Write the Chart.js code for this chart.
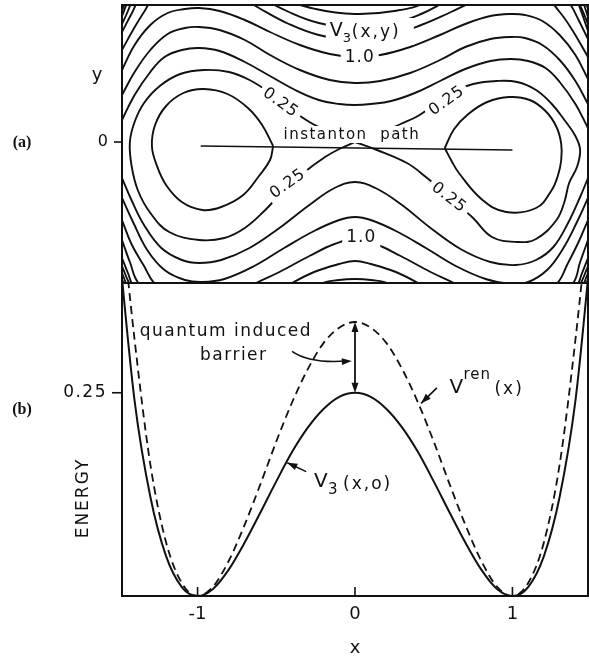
<!DOCTYPE html>
<html>
<head>
<meta charset="utf-8">
<script src="https://cdn.jsdelivr.net/npm/chart.js@4.4.1/dist/chart.umd.min.js"></script>
<style>
  html, body { margin: 0; padding: 0; background: #fff; }
  #wrap { position: relative; width: 589px; height: 659px; }
  canvas { position: absolute; left: 0; top: 0; }
</style>
</head>
<body>
<div id="wrap">
  <canvas id="contour" width="589" height="659"></canvas>
  <canvas id="energy" width="589" height="659"></canvas>
</div>
<script>
// ---- (a) contour map of V3(x,y) as [x, y] ----
const lemonLeft = [[-0.52,-0.04],[-0.59,0.17],[-0.68,0.34],[-0.81,0.48],[-0.96,0.53],[-1.09,0.49],[-1.20,0.36],[-1.27,0.17],[-1.29,-0.04],[-1.26,-0.23],[-1.20,-0.43],[-1.10,-0.60],[-0.97,-0.68],[-0.85,-0.65],[-0.71,-0.53],[-0.61,-0.34],[-0.54,-0.18],[-0.52,-0.04]];
const lemonRight = [[0.57,-0.06],[0.63,0.13],[0.72,0.28],[0.84,0.40],[0.98,0.45],[1.11,0.42],[1.21,0.31],[1.28,0.15],[1.31,-0.02],[1.31,-0.18],[1.29,-0.33],[1.25,-0.48],[1.15,-0.66],[0.96,-0.70],[0.81,-0.58],[0.66,-0.31],[0.61,-0.18],[0.57,-0.06]];
const sepLeft = [[0,0],[-0.16,0.10],[-0.29,0.20],[-0.42,0.34],[-0.54,0.49],[-0.67,0.62],[-0.80,0.70],[-0.96,0.72],[-1.11,0.68],[-1.24,0.56],[-1.34,0.39],[-1.40,0.20],[-1.43,0.00],[-1.42,-0.23],[-1.38,-0.48],[-1.30,-0.71],[-1.18,-0.90],[-0.99,-0.98],[-0.83,-0.96],[-0.70,-0.86],[-0.57,-0.68],[-0.45,-0.48],[-0.32,-0.30],[-0.19,-0.15],[-0.10,-0.07],[0,0]];
const sepRight = [[0,0],[0.16,0.09],[0.29,0.18],[0.40,0.26],[0.50,0.37],[0.62,0.50],[0.75,0.58],[0.90,0.61],[1.03,0.60],[1.15,0.52],[1.25,0.38],[1.33,0.22],[1.40,0.06],[1.43,-0.08],[1.41,-0.25],[1.36,-0.41],[1.33,-0.60],[1.28,-0.78],[1.15,-0.97],[1.03,-1.00],[0.87,-0.95],[0.75,-0.76],[0.60,-0.55],[0.45,-0.35],[0.33,-0.21],[0.14,-0.08],[0,0]];
const upper05 = [[-1.48,0.22],[-1.40,0.47],[-1.30,0.70],[-1.21,0.85],[-1.10,0.92],[-0.99,0.94],[-0.86,0.91],[-0.70,0.80],[-0.54,0.66],[-0.38,0.52],[-0.23,0.42],[-0.10,0.38],[0,0.37],[0.10,0.38],[0.23,0.41],[0.38,0.49],[0.54,0.61],[0.70,0.73],[0.86,0.81],[0.99,0.83],[1.10,0.81],[1.21,0.74],[1.30,0.60],[1.40,0.38],[1.48,0.14]];
const upper075 = [[-1.48,0.47],[-1.40,0.70],[-1.30,0.92],[-1.19,1.08],[-1.08,1.14],[-0.99,1.15],[-0.86,1.12],[-0.70,1.02],[-0.54,0.87],[-0.35,0.72],[-0.16,0.62],[0,0.59],[0.16,0.61],[0.35,0.69],[0.54,0.82],[0.70,0.95],[0.86,1.03],[0.99,1.05],[1.08,1.04],[1.19,0.97],[1.30,0.82],[1.40,0.61],[1.48,0.38]];
const upper10 = [[-1.48,0.72],[-1.40,0.97],[-1.30,1.17],[-1.19,1.29],[-1.08,1.33],[-0.99,1.34],[-0.86,1.31],[-0.70,1.22],[-0.54,1.10],[-0.35,0.97],[-0.16,0.88],[0,0.85],[0.16,0.87],[0.35,0.95],[0.54,1.07],[0.70,1.18],[0.86,1.26],[0.99,1.28],[1.08,1.27],[1.19,1.21],[1.30,1.07],[1.40,0.87],[1.48,0.63]];
const upper125 = [[-1.48,0.92],[-1.41,1.12],[-1.34,1.30],[-1.27,1.45],[-1.0,1.62],[-0.80,1.52],[-0.70,1.43],[-0.61,1.34],[-0.42,1.18],[-0.23,1.07],[0,1.02],[0.23,1.07],[0.42,1.17],[0.61,1.30],[0.75,1.40],[1.0,1.52],[1.20,1.46],[1.30,1.30],[1.38,1.12],[1.48,0.85]];
const upper15 = [[-1.48,1.10],[-1.42,1.28],[-1.36,1.44],[-1.0,1.85],[-0.59,1.44],[-0.42,1.30],[-0.23,1.19],[0,1.14],[0.23,1.18],[0.42,1.28],[0.57,1.40],[1.0,1.75],[1.30,1.50],[1.37,1.37],[1.42,1.22],[1.48,1.03]];
const upper175 = [[-1.48,1.26],[-1.43,1.42],[-1.0,2.0],[-0.45,1.44],[-0.25,1.33],[0,1.28],[0.25,1.31],[0.45,1.40],[1.0,1.95],[1.40,1.45],[1.44,1.33],[1.48,1.18]];
const upperCornerL1 = [[-1.48,1.18],[-1.445,1.30],[-1.415,1.42]];
const upperCornerL2 = [[-1.48,1.31],[-1.455,1.42]];
const upperCornerL3 = [[-1.48,1.36],[-1.468,1.42]];
const upperCornerR1 = [[1.41,1.42],[1.445,1.27],[1.48,1.11]];
const upperCornerR2 = [[1.445,1.42],[1.48,1.25]];
const upperCornerR3 = [[1.462,1.42],[1.48,1.33]];
const lower05 = [[-1.48,-0.36],[-1.42,-0.58],[-1.34,-0.83],[-1.23,-1.06],[-1.10,-1.18],[-0.99,-1.21],[-0.85,-1.18],[-0.67,-1.06],[-0.48,-0.86],[-0.29,-0.63],[-0.13,-0.46],[0,-0.40],[0.13,-0.46],[0.29,-0.62],[0.48,-0.86],[0.67,-1.07],[0.86,-1.20],[1.02,-1.23],[1.15,-1.18],[1.26,-1.05],[1.35,-0.82],[1.43,-0.55],[1.48,-0.36]];
const lower075 = [[-1.48,-0.56],[-1.41,-0.80],[-1.32,-1.08],[-1.21,-1.28],[-1.08,-1.38],[-0.97,-1.40],[-0.83,-1.37],[-0.64,-1.24],[-0.45,-1.06],[-0.26,-0.89],[-0.10,-0.78],[0,-0.75],[0.10,-0.78],[0.26,-0.89],[0.45,-1.06],[0.64,-1.24],[0.83,-1.37],[0.99,-1.42],[1.10,-1.40],[1.22,-1.28],[1.32,-1.07],[1.41,-0.80],[1.48,-0.56]];
const lower10 = [[-1.48,-0.78],[-1.42,-1.02],[-1.34,-1.24],[-1.27,-1.42],[-1.0,-1.75],[-0.64,-1.42],[-0.48,-1.30],[-0.29,-1.14],[-0.13,-1.02],[0,-0.97],[0.13,-1.02],[0.29,-1.14],[0.48,-1.30],[0.64,-1.42],[1.0,-1.75],[1.28,-1.42],[1.35,-1.22],[1.42,-1.00],[1.48,-0.78]];
const lower125 = [[-1.48,-0.98],[-1.43,-1.20],[-1.37,-1.42],[-1.0,-1.95],[-0.41,-1.42],[-0.26,-1.30],[-0.10,-1.22],[0,-1.19],[0.10,-1.22],[0.26,-1.30],[0.41,-1.42],[1.0,-1.95],[1.38,-1.42],[1.43,-1.20],[1.48,-0.98]];
const lower15 = [[-1.48,-1.16],[-1.44,-1.32],[-1.41,-1.43],[-1.0,-2.1],[-0.22,-1.42],[-0.10,-1.38],[0,-1.37],[0.10,-1.38],[0.22,-1.42],[1.0,-2.1],[1.41,-1.43],[1.44,-1.32],[1.48,-1.16]];
const lowerCornerL1 = [[-1.48,-1.24],[-1.455,-1.34],[-1.43,-1.43]];
const lowerCornerL2 = [[-1.48,-1.31],[-1.45,-1.43]];
const lowerCornerL3 = [[-1.48,-1.37],[-1.465,-1.43]];
const lowerCornerR1 = [[1.43,-1.43],[1.455,-1.34],[1.48,-1.24]];
const lowerCornerR2 = [[1.45,-1.43],[1.48,-1.31]];
const lowerCornerR3 = [[1.465,-1.43],[1.48,-1.37]];
const instantonPath = [[-0.98,-0.04],[1.0,-0.08]];
const contourYTicks = [0];

// ---- (b) cuts along y = 0 ----
const xGrid = [-1.5,-1.4,-1.3,-1.2,-1.1,-1.0,-0.9,-0.8,-0.7,-0.6,-0.5,-0.4,-0.3,-0.2,-0.1,0,0.1,0.2,0.3,0.4,0.5,0.6,0.7,0.8,0.9,1.0,1.1,1.2,1.3,1.4,1.5];
const v3Row = [0.43,0.24,0.122,0.049,0.011,0,0.009,0.033,0.066,0.103,0.141,0.177,0.207,0.230,0.245,0.250,0.245,0.230,0.207,0.177,0.141,0.103,0.066,0.033,0.009,0,0.011,0.049,0.122,0.24,0.43];
const vRen = [0.50,0.315,0.162,0.066,0.016,0,0.012,0.044,0.088,0.138,0.190,0.238,0.279,0.311,0.330,0.337,0.330,0.311,0.279,0.238,0.190,0.138,0.088,0.044,0.012,0,0.016,0.066,0.162,0.315,0.50];
const xTicks = [-1, 0, 1];
const energyTicks = [0.25];

const INK = "#111";
const SANS = "'DejaVu Sans', sans-serif";
Chart.defaults.font.family = SANS;

function contourSet(arr) {
    return {
        data: arr.map((p) => ({ x: p[0], y: p[1] })),
        showLine: true,
        borderColor: INK,
        borderWidth: 1.9,
        pointRadius: 0,
        tension: 0.4,
        fill: false,
    };
}

function text(ctx, str, px, py, font, align, base, spacing) {
    ctx.save();
    ctx.font = font;
    ctx.letterSpacing = spacing || "0px";
    ctx.textAlign = align || "center";
    ctx.textBaseline = base || "middle";
    ctx.fillStyle = INK;
    ctx.fillText(str, px, py);
    ctx.restore();
}

function boxedText(ctx, str, px, py, angle, font, spacing) {
    ctx.save();
    ctx.translate(px, py);
    ctx.rotate(angle);
    ctx.font = font;
    ctx.letterSpacing = spacing || "0px";
    const w = ctx.measureText(str).width;
    ctx.fillStyle = "#fff";
    ctx.fillRect(-w / 2 - 4, -10, w + 8, 20);
    ctx.fillStyle = INK;
    ctx.textAlign = "center";
    ctx.textBaseline = "middle";
    ctx.fillText(str, 0, 1);
    ctx.restore();
}

function line(ctx, x1, y1, x2, y2, w) {
    ctx.save();
    ctx.strokeStyle = INK;
    ctx.lineWidth = w || 1.8;
    ctx.beginPath();
    ctx.moveTo(x1, y1);
    ctx.lineTo(x2, y2);
    ctx.stroke();
    ctx.restore();
}

function arrowHead(ctx, tipX, tipY, angle) {
    const len = 10, half = 3.5;
    ctx.save();
    ctx.translate(tipX, tipY);
    ctx.rotate(angle);
    ctx.fillStyle = INK;
    ctx.beginPath();
    ctx.moveTo(0, 0);
    ctx.lineTo(-len, -half);
    ctx.lineTo(-len, half);
    ctx.closePath();
    ctx.fill();
    ctx.restore();
}

const contourDecor = {
    id: "contourDecor",
    afterDatasetsDraw(chart) {
        const { ctx, scales: { x, y } } = chart;
        const P = (vx, vy) => [x.getPixelForValue(vx), y.getPixelForValue(vy)];

        // level labels sitting on the contours
        const lab = "16px " + SANS;
        let p = P(-0.47, 0.40);
        boxedText(ctx, "0.25", p[0], p[1], 0.62, lab, "1px");
        p = P(0.58, 0.42);
        boxedText(ctx, "0.25", p[0], p[1], -0.62, lab, "1px");
        p = P(-0.43, -0.41);
        boxedText(ctx, "0.25", p[0], p[1], -0.62, lab, "1px");
        p = P(0.60, -0.55);
        boxedText(ctx, "0.25", p[0], p[1], 0.66, lab, "1px");
        p = P(0.03, 0.85);
        boxedText(ctx, "1.0", p[0], p[1], 0, "17px " + SANS, "1px");
        p = P(0.04, -0.95);
        boxedText(ctx, "1.0", p[0], p[1], 0, "17px " + SANS, "1px");

        // V3(x,y)
        p = P(-0.16, 1.06);
        ctx.save();
        ctx.fillStyle = "#fff";
        ctx.fillRect(p[0] - 4, p[1] - 18, 88, 27);
        ctx.restore();
        text(ctx, "V", p[0], p[1], "19px " + SANS, "left", "alphabetic");
        text(ctx, "3", p[0] + 13, p[1] + 6, "13px " + SANS, "left", "alphabetic");
        text(ctx, "(x,y)", p[0] + 22, p[1] + 1, "17px " + SANS, "left", "alphabetic", "2px");

        // instanton path
        p = P(-0.02, 0.07);
        ctx.save();
        ctx.font = "15px " + SANS;
        ctx.letterSpacing = "1.5px";
        const w = ctx.measureText("instanton  path").width;
        ctx.fillStyle = "#fff";
        ctx.fillRect(p[0] - w / 2 - 3, p[1] - 9, w + 6, 17);
        ctx.restore();
        text(ctx, "instanton  path", p[0], p[1], "15px " + SANS, "center", "middle", "1.5px");
    },
    afterDraw(chart) {
        const { ctx, chartArea: a, scales: { y } } = chart;
        ctx.save();
        ctx.strokeStyle = INK;
        ctx.lineWidth = 2;
        ctx.strokeRect(a.left, a.top, a.right - a.left, a.bottom - a.top);
        ctx.restore();
        contourYTicks.forEach((t) => {
            const py = y.getPixelForValue(t);
            line(ctx, a.left - 8, py, a.left, py, 1.6);
            text(ctx, String(t), a.left - 14, py, "16px " + SANS, "right", "middle");
        });
        text(ctx, "y", 97, 75, "18px " + SANS, "center", "middle");
        text(ctx, "(a)", 22, 143, "bold 16px 'Liberation Serif', serif", "center", "middle");
    },
};

const energyDecor = {
    id: "energyDecor",
    afterDatasetsDraw(chart) {
        const { ctx, scales: { x, y } } = chart;
        const P = (vx, vy) => [x.getPixelForValue(vx), y.getPixelForValue(vy)];
        const mid = xGrid.indexOf(0);

        // barrier arrow between the two maxima
        const top = P(0, vRen[mid]);
        const bot = P(0, v3Row[mid]);
        line(ctx, top[0], top[1] + 6, bot[0], bot[1] - 6, 1.8);
        arrowHead(ctx, top[0], top[1], -Math.PI / 2);
        arrowHead(ctx, bot[0], bot[1], Math.PI / 2);

        // curved pointer from the caption
        const c0 = P(-0.40, 0.301), c1 = P(-0.29, 0.286), c2 = P(-0.02, 0.289);
        ctx.save();
        ctx.strokeStyle = INK;
        ctx.lineWidth = 1.6;
        ctx.beginPath();
        ctx.moveTo(c0[0], c0[1]);
        ctx.quadraticCurveTo(c1[0], c1[1], c2[0] - 6, c2[1]);
        ctx.stroke();
        ctx.restore();
        arrowHead(ctx, c2[0], c2[1], Math.atan2(c2[1] - c1[1], c2[0] - c1[0]));

        let p = P(-0.82, 0.325);
        text(ctx, "quantum induced", p[0], p[1], "17px " + SANS, "center", "middle", "1.5px");
        p = P(-0.77, 0.296);
        text(ctx, "barrier", p[0], p[1], "17px " + SANS, "center", "middle", "1.5px");

        // V^ren(x)
        const r0 = P(0.52, 0.256), r1 = P(0.42, 0.237);
        line(ctx, r0[0], r0[1], r1[0], r1[1], 1.6);
        arrowHead(ctx, r1[0], r1[1], Math.atan2(r1[1] - r0[1], r1[0] - r0[0]));
        p = P(0.60, 0.25);
        text(ctx, "V", p[0], p[1], "20px " + SANS, "left", "alphabetic");
        text(ctx, "ren", p[0] + 14, p[1] - 14, "15px " + SANS, "left", "alphabetic", "1px");
        text(ctx, "(x)", p[0] + 45, p[1] + 1, "17px " + SANS, "left", "alphabetic", "2px");

        // V3(x,o)
        const s0 = P(-0.31, 0.153), s1 = P(-0.43, 0.164);
        line(ctx, s0[0], s0[1], s1[0], s1[1], 1.6);
        arrowHead(ctx, s1[0], s1[1], Math.atan2(s1[1] - s0[1], s1[0] - s0[0]));
        p = P(-0.26, 0.134);
        text(ctx, "V", p[0], p[1], "20px " + SANS, "left", "alphabetic");
        text(ctx, "3", p[0] + 14, p[1] + 7, "15px " + SANS, "left", "alphabetic");
        text(ctx, "(x,o)", p[0] + 29, p[1] + 2, "17px " + SANS, "left", "alphabetic", "2px");
    },
    afterDraw(chart) {
        const { ctx, chartArea: a, scales: { x, y } } = chart;
        ctx.save();
        ctx.strokeStyle = INK;
        ctx.lineWidth = 2;
        ctx.strokeRect(a.left, a.top, a.right - a.left, a.bottom - a.top);
        ctx.restore();
        xTicks.forEach((t) => {
            const px = x.getPixelForValue(t);
            line(ctx, px, a.bottom, px, a.bottom - 9, 1.6);
            text(ctx, String(t), px, a.bottom + 18, "18px " + SANS, "center", "middle");
        });
        energyTicks.forEach((t) => {
            const py = y.getPixelForValue(t);
            line(ctx, a.left - 10, py, a.left, py, 1.6);
            text(ctx, t.toFixed(2), a.left - 15, py, "17px " + SANS, "right", "middle", "1.5px");
        });
        text(ctx, "x", x.getPixelForValue(0), a.bottom + 52, "18px " + SANS, "center", "middle");
        text(ctx, "(b)", 22, 410, "bold 16px 'Liberation Serif', serif", "center", "middle");
        ctx.save();
        ctx.translate(84, 498);
        ctx.rotate(-Math.PI / 2);
        text(ctx, "ENERGY", 0, 0, "17px " + SANS, "center", "middle", "2px");
        ctx.restore();
    },
};

function main() {
    const contourSets = [
        lemonLeft, lemonRight, sepLeft, sepRight,
        upper05, upper075, upper10, upper125, upper15, upper175,
        upperCornerL1, upperCornerL2, upperCornerL3, upperCornerR1, upperCornerR2, upperCornerR3,
        lower05, lower075, lower10, lower125, lower15,
        lowerCornerL1, lowerCornerL2, lowerCornerL3, lowerCornerR1, lowerCornerR2, lowerCornerR3,
    ].map(contourSet);
    const path = contourSet(instantonPath);
    path.tension = 0;
    path.borderWidth = 1.6;
    contourSets.push(path);

    new Chart(document.getElementById("contour"), {
        type: "scatter",
        data: { datasets: contourSets },
        options: {
            responsive: false,
            animation: false,
            events: [],
            layout: { padding: { left: 122, right: 1, top: 5, bottom: 376 } },
            elements: { line: { capBezierPoints: false } },
            plugins: { legend: { display: false }, tooltip: { enabled: false } },
            scales: {
                x: { type: "linear", min: -1.48, max: 1.48, display: false },
                y: { type: "linear", min: -1.41, max: 1.37, display: false },
            },
        },
        plugins: [contourDecor],
    });

    new Chart(document.getElementById("energy"), {
        type: "scatter",
        data: {
            datasets: [
                {
                    label: "V3(x,0)",
                    data: xGrid.map((v, i) => ({ x: v, y: v3Row[i] })),
                    showLine: true,
                    borderColor: INK,
                    borderWidth: 2,
                    pointRadius: 0,
                    cubicInterpolationMode: "monotone",
                },
                {
                    label: "Vren(x)",
                    data: xGrid.map((v, i) => ({ x: v, y: vRen[i] })),
                    showLine: true,
                    borderColor: INK,
                    borderWidth: 1.8,
                    borderDash: [8, 5],
                    pointRadius: 0,
                    cubicInterpolationMode: "monotone",
                },
            ],
        },
        options: {
            responsive: false,
            animation: false,
            events: [],
            layout: { padding: { left: 122, right: 1, top: 283, bottom: 63 } },
            elements: { line: { capBezierPoints: false } },
            plugins: { legend: { display: false }, tooltip: { enabled: false } },
            scales: {
                x: { type: "linear", min: -1.48, max: 1.48, display: false },
                y: { type: "linear", min: 0, max: 0.385, display: false },
            },
        },
        plugins: [energyDecor],
    });
}

main();
</script>
</body>
</html>
